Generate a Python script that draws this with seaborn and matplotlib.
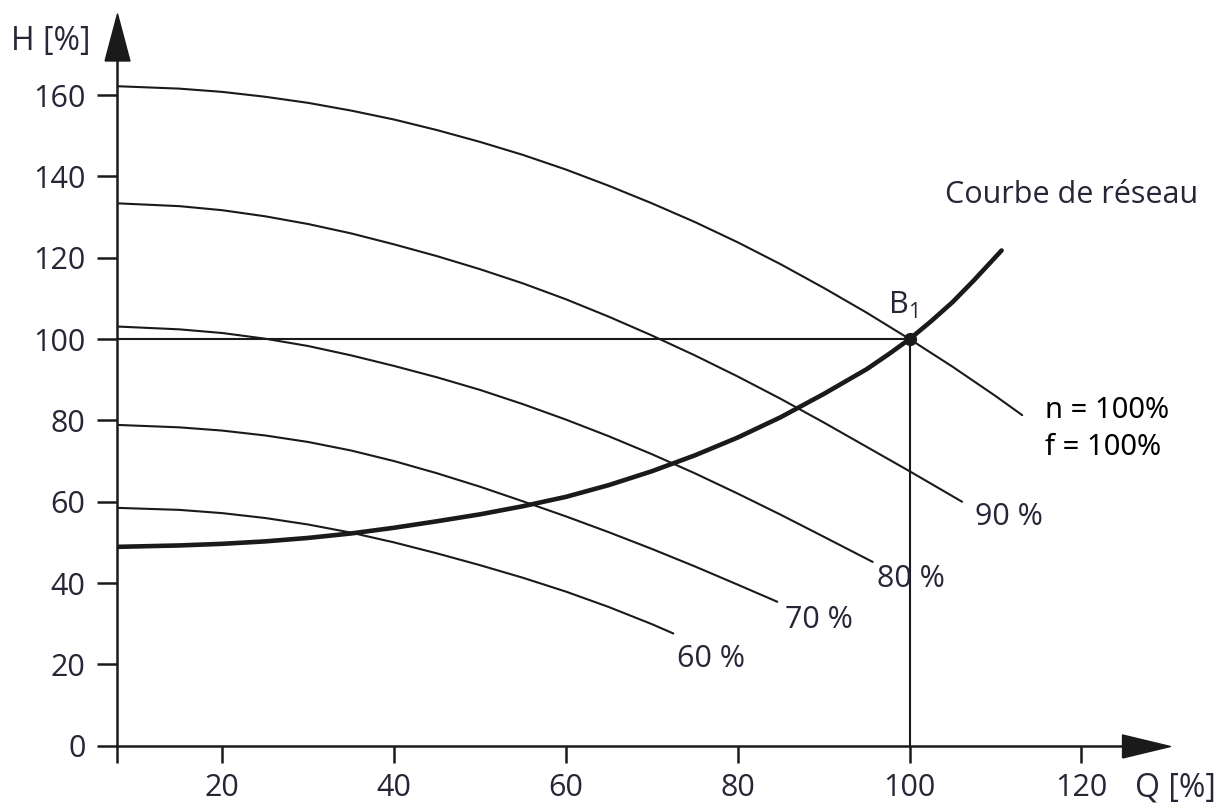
import pandas as pd
import matplotlib.pyplot as plt
import seaborn as sns

# Courbes de pompe (Q [%], H [%])
q_100 = [7.7, 15, 20, 25, 30, 35, 40, 45, 50, 55, 60, 65, 70, 75, 80, 85, 90, 95, 100, 105, 110, 113.1]
h_100 = [162.2, 161.6, 160.8, 159.6, 158.1, 156.2, 154.0, 151.4, 148.5, 145.3, 141.7, 137.7,
         133.4, 128.8, 123.8, 118.4, 112.6, 106.5, 100, 93.2, 86.0, 81.3]
q_90 = [7.7, 15, 20, 25, 30, 35, 40, 45, 50, 55, 60, 65, 70, 75, 80, 85, 90, 95, 100, 106.1]
h_90 = [133.4, 132.7, 131.7, 130.2, 128.3, 126.0, 123.3, 120.4, 117.2, 113.7, 109.8, 105.5,
        100.9, 96.0, 90.8, 85.3, 79.5, 73.5, 67.5, 60.0]
q_80 = [7.7, 15, 20, 25, 30, 35, 40, 45, 50, 55, 60, 65, 70, 75, 80, 85, 90, 95.7]
h_80 = [103.1, 102.4, 101.5, 100.1, 98.3, 96.0, 93.4, 90.6, 87.5, 84.0, 80.2, 76.1,
        71.7, 67.0, 62.0, 56.8, 51.4, 45.2]
q_70 = [7.7, 15, 20, 25, 30, 35, 40, 45, 50, 55, 60, 65, 70, 75, 80, 84.6]
h_70 = [78.9, 78.3, 77.5, 76.3, 74.7, 72.6, 70.0, 67.0, 63.7, 60.1, 56.4, 52.5,
        48.4, 44.1, 39.6, 35.4]
q_60 = [7.7, 15, 20, 25, 30, 35, 40, 45, 50, 55, 60, 65, 70, 72.5]
h_60 = [58.5, 58.0, 57.2, 56.0, 54.4, 52.4, 50.0, 47.3, 44.4, 41.3, 37.9, 34.1, 29.9, 27.6]

# Courbe de réseau
q_reseau = [7.7, 15, 20, 25, 30, 35, 40, 45, 50, 55, 60, 65, 70, 75, 80, 85, 90, 95,
            97.5, 100, 102.5, 105, 107.5, 110.7]
h_reseau = [48.9, 49.25, 49.65, 50.25, 51.1, 52.2, 53.6, 55.2, 56.9, 58.9, 61.2, 64.1,
            67.5, 71.4, 75.8, 80.8, 86.5, 92.6, 96.2, 100, 104.4, 109.1, 114.5, 121.8]

# Point de fonctionnement B1
q_b1 = 100
h_b1 = 100

x_ticks = [20, 40, 60, 80, 100, 120]
y_ticks = [0, 20, 40, 60, 80, 100, 120, 140, 160]

courbes = {
    "100 %": (q_100, h_100),
    "90 %": (q_90, h_90),
    "80 %": (q_80, h_80),
    "70 %": (q_70, h_70),
    "60 %": (q_60, h_60),
    "réseau": (q_reseau, h_reseau),
}
frames = []
for nom, (q, h) in courbes.items():
    frames.append(pd.DataFrame({"Q": q, "H": h, "courbe": nom}))
df = pd.concat(frames, ignore_index=True)

sns.set_style("white")
plt.rcParams["font.family"] = ["Open Sans", "DejaVu Sans"]

txt_color = "#262637"
ink = "#1a1a1a"

fig = plt.figure(figsize=(12.3, 8.08), dpi=100)
ax = fig.add_axes([0.09472, 0.07710, 0.85650, 0.90681])

palette = {k: ink for k in courbes}
sizes = {k: 1.5 for k in courbes}
sizes["réseau"] = 3.3
sns.lineplot(data=df, x="Q", y="H", hue="courbe", size="courbe",
             palette=palette, sizes=sizes, estimator=None, legend=False, ax=ax)

# lignes de repère vers B1
x0 = 7.7
ax.plot([x0, q_b1], [h_b1, h_b1], color=ink, lw=1.5)
ax.plot([q_b1, q_b1], [0, h_b1], color=ink, lw=1.5)
ax.plot([q_b1], [h_b1], "o", color=ink, markersize=8.5, zorder=5)

ax.set_xlim(x0, 130.3)
ax.set_ylim(0, 180.2)
ax.set_xlabel("")
ax.set_ylabel("")

for s in ["top", "right"]:
    ax.spines[s].set_visible(False)
for s in ["left", "bottom"]:
    ax.spines[s].set_linewidth(1.8)
    ax.spines[s].set_color(ink)
ax.spines["bottom"].set_bounds(x0, 127.5)
ax.spines["left"].set_bounds(0, 174.4)

ax.set_xticks([x0] + x_ticks)
ax.set_xticklabels([""] + [str(t) for t in x_ticks])
ax.set_yticks(y_ticks)
ax.set_yticklabels([str(t) for t in y_ticks])
ax.tick_params(axis="x", direction="out", length=12, width=1.8, color=ink,
               pad=8, labelsize=22, labelcolor=txt_color, bottom=True)
ax.tick_params(axis="y", direction="out", length=14.4, width=1.8, color=ink,
               pad=8, labelsize=22, labelcolor=txt_color, left=True)

# flèches des axes
arrow_x = [(-1, -0.48), (1, 0), (-1, 0.48), (-1, -0.48)]
arrow_y = [(-0.53, -1), (0, 1), (0.53, -1), (-0.53, -1)]
ax.plot([127.5], [0], marker=arrow_x, markersize=34.5, color=ink, clip_on=False)
ax.plot([x0], [174.4], marker=arrow_y, markersize=33.8, color=ink, clip_on=False)

# textes
ax.text(0.06, 171.1, "H [%]", fontsize=23, color=txt_color, ha="center", va="baseline")
ax.text(130.9, -12.6, "Q [%]", fontsize=23, color=txt_color, ha="center", va="baseline")
ax.text(118.9, 133.4, "Courbe de réseau", fontsize=22, color=txt_color, ha="center", va="baseline")
ax.text(97.5, 106.3, r"B$_{\mathregular{1}}$", fontsize=22, color=txt_color, ha="left", va="baseline")
ax.text(107.6, 54.3, "90 %", fontsize=22, color=txt_color, ha="left", va="baseline")
ax.text(96.2, 39.0, "80 %", fontsize=22, color=txt_color, ha="left", va="baseline")
ax.text(85.5, 28.9, "70 %", fontsize=22, color=txt_color, ha="left", va="baseline")
ax.text(72.9, 19.4, "60 %", fontsize=22, color=txt_color, ha="left", va="baseline")
ax.text(115.8, 80.6, "n = 100%", fontsize=21, color="black", ha="left", va="baseline",
        family=["Noto Sans", "DejaVu Sans"])
ax.text(115.8, 71.5, "f = 100%", fontsize=21, color="black", ha="left", va="baseline",
        family=["Noto Sans", "DejaVu Sans"])

plt.savefig("out.png", dpi=100)
